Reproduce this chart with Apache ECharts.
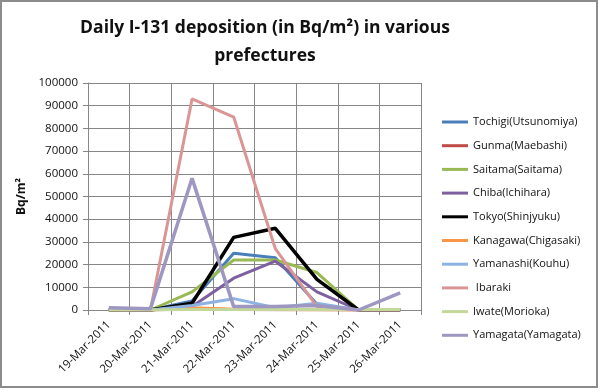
<!DOCTYPE html>
<html>
<head>
<meta charset="utf-8">
<script src="https://cdn.jsdelivr.net/npm/echarts@6/dist/echarts.min.js"></script>
<style>html,body{margin:0;padding:0;background:#fff}#c{width:600px;height:392px}</style>
</head>
<body>
<div id="c"></div>
<script>
const categories = ['19-Mar-2011','20-Mar-2011','21-Mar-2011','22-Mar-2011','23-Mar-2011','24-Mar-2011','25-Mar-2011','26-Mar-2011'];
const yTicks = [0,10000,20000,30000,40000,50000,60000,70000,80000,90000,100000];

const tochigi   = [0, 0, 4000, 25000, 23000, 2500, 0, 0];
const gunma     = [0, 0, 500, 200, 100, 100, 0, 0];
const saitama   = [0, 0, 8000, 22000, 22000, 16500, 0, 0];
const chiba     = [0, 0, 1500, 14000, 21500, 8000, 0, 0];
const tokyo     = [0, 0, 3000, 32000, 36000, 13500, 0, 0];
const kanagawa  = [0, 0, 1000, 300, 200, 100, 0, 0];
const yamanashi = [0, 0, 2000, 5000, 1000, 3000, 0, 0];
const ibaraki   = [0, 0, 93000, 85000, 27000, 1500, 0, 0];
const iwate     = [0, 0, 200, 200, 200, 200, 200, 200];
const yamagata  = [1000, 600, 58000, 1500, 1500, 2000, 0, 7500];

const seriesDefs = [
  ['Tochigi(Utsunomiya)', tochigi, '#4A7EBB', 3],
  ['Gunma(Maebashi)', gunma, '#BE4B48', 3],
  ['Saitama(Saitama)', saitama, '#98B954', 3],
  ['Chiba(Ichihara)', chiba, '#7D60A0', 3],
  ['Tokyo(Shinjyuku)', tokyo, '#000000', 3.5],
  ['Kanagawa(Chigasaki)', kanagawa, '#F79646', 3],
  ['Yamanashi(Kouhu)', yamanashi, '#8DB3E2', 3],
  [' Ibaraki', ibaraki, '#DA9694', 3],
  ['Iwate(Morioka)', iwate, '#C4D79B', 3],
  ['Yamagata(Yamagata)', yamagata, '#9D97C1', 3.5]
];

const chart = echarts.init(document.getElementById('c'), null, {renderer:'canvas'});
const fontFam = '"Open Sans", "Liberation Sans", sans-serif';
chart.setOption({
  animation: false,
  backgroundColor: '#fff',
  title: {
    text: 'Daily I-131 deposition (in Bq/m²) in various\nprefectures',
    top: 9, left: 260, textAlign: 'center',
    textStyle: {fontFamily: fontFam, fontWeight: 'bold', fontSize: 17.5, lineHeight: 28, color: '#111'}
  },
  graphic: [{
    type: 'rect', shape: {x: 1, y: 1, width: 596, height: 386},
    style: {fill: 'none', stroke: '#8c8c8c', lineWidth: 2}, silent: true
  }],
  legend: {
    orient: 'vertical', left: 437, top: 110,
    itemWidth: 26, itemHeight: 3, itemGap: 9.7, icon: 'rect',
    textStyle: {fontFamily: fontFam, fontSize: 11, color: '#111', lineHeight: 14},
    data: seriesDefs.map(d => d[0])
  },
  grid: {left: 88, top: 83, width: 333, height: 227, containLabel: false},
  xAxis: {
    type: 'category', data: categories, boundaryGap: true,
    axisLine: {lineStyle: {color: '#868686', width: 1}},
    axisTick: {show: true, length: 5, lineStyle: {color: '#868686'}, alignWithLabel: false},
    splitLine: {show: true, lineStyle: {color: '#868686', width: 1}},
    axisLabel: {rotate: 45, fontFamily: fontFam, fontSize: 11.5, color: '#111', margin: 13, interval: 0}
  },
  yAxis: {
    type: 'value', min: 0, max: 100000, interval: 10000,
    name: 'Bq/m²', nameLocation: 'middle', nameGap: 51,
    nameTextStyle: {fontFamily: fontFam, fontSize: 12, fontWeight: 'bold', color: '#111'},
    axisLine: {show: true, lineStyle: {color: '#868686'}},
    axisTick: {show: true, length: 5, lineStyle: {color: '#868686'}},
    splitLine: {show: true, lineStyle: {color: '#868686', width: 1}},
    axisLabel: {fontFamily: fontFam, fontSize: 11.5, color: '#111', margin: 10,
      formatter: v => yTicks.indexOf(v) >= 0 ? String(v) : ''}
  },
  series: seriesDefs.map(d => ({
    name: d[0], type: 'line', data: d[1], symbol: 'none',
    lineStyle: {color: d[2], width: d[3]}, itemStyle: {color: d[2]}
  }))
});
</script>
</body>
</html>
